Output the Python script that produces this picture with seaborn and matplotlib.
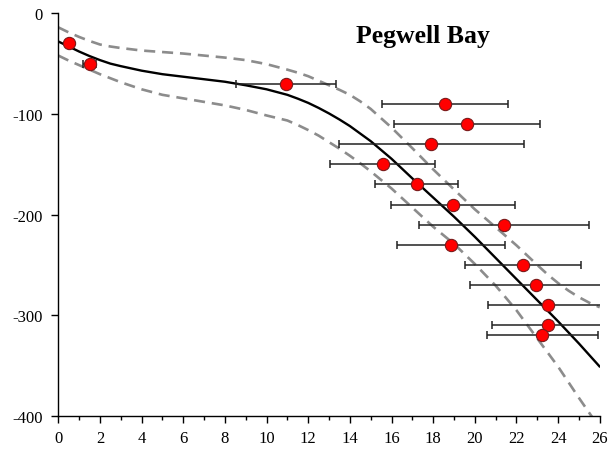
import matplotlib
matplotlib.use("Agg")
import matplotlib.pyplot as plt
from matplotlib.ticker import MultipleLocator
import seaborn as sns
import pandas as pd

# Observations: age (x), depth (y) and horizontal uncertainty
obs_x = [0.5, 1.5, 10.94, 18.56, 19.63, 17.92, 15.57, 17.2, 18.95, 21.4, 18.86,
         22.3, 22.95, 23.52, 23.52, 23.25]
obs_y = [-30, -50, -70, -90, -110, -130, -150, -170, -190, -210, -230,
         -250, -270, -290, -310, -320]
obs_xerr = [0.0, 0.3, 2.39, 3.01, 3.5, 4.44, 2.53, 2.0, 2.98, 4.08, 2.59,
            2.78, 3.2, 2.89, 2.69, 2.68]

# Fitted depth model and its confidence envelope
fit_x = [0, 0.5, 1, 1.5, 2, 2.5, 3, 4, 5, 6, 7, 8, 9, 10, 11, 11.5, 12, 12.5, 13,
         13.5, 14, 14.5, 15, 16, 17, 18, 19, 20, 21, 22, 23, 23.5, 24, 24.5, 25,
         25.5, 26]
fit_y = [-28, -33, -38, -42.5, -46.5, -50, -52.5, -57, -60.5, -63, -65.5, -68,
         -71.5, -75.5, -81, -84.8, -89, -94, -99.5, -105.5, -112, -119.5, -127,
         -144.5, -164, -183, -202, -222, -243, -264, -285, -295.5, -306, -317,
         -328, -339.5, -351]
upper_y = [-14, -19, -23.5, -27.5, -31, -33, -34.5, -37, -38.5, -40, -42, -44,
           -46.5, -50.5, -56, -59, -62.5, -67, -71.5, -76, -81, -87.5, -95,
           -113.5, -134, -155, -175, -194.7, -212.5, -230.5, -250, -259.5, -268,
           -275.5, -282, -287.5, -292]
lower_y = [-42, -47, -51.5, -56, -60.5, -64.5, -68.5, -75.5, -81, -84.5, -88,
           -91.5, -96, -101.5, -106.5, -111, -116, -121.5, -128, -134.5, -141.5,
           -149, -157, -174, -193, -212, -229, -249, -270.5, -295, -323, -337,
           -351, -366.5, -382, -397, -412]

x_ticks = list(range(0, 27, 2))
y_ticks = [0, -100, -200, -300, -400]
title = "Pegwell Bay"

sns.set_theme(style="ticks")
plt.rcParams["font.family"] = ["Liberation Serif", "DejaVu Serif"]
plt.rcParams["axes.unicode_minus"] = False

fig = plt.figure(figsize=(6.12, 4.52), dpi=100)
ax = fig.add_axes([0.0953, 0.0774, 0.8847, 0.891])

curves = pd.DataFrame({"x": fit_x, "fit": fit_y, "upper": upper_y, "lower": lower_y})

for col in ["upper", "lower"]:
    sns.lineplot(data=curves, x="x", y=col, ax=ax, color="#8c8c8c", lw=1.9,
                 dashes=False, linestyle=(0, (4.2, 2.6)), zorder=2)
sns.lineplot(data=curves, x="x", y="fit", ax=ax, color="black", lw=1.7, zorder=3)

ax.errorbar(obs_x, obs_y, xerr=obs_xerr, fmt="none", ecolor="#222222",
            elinewidth=1.1, capsize=3.2, capthick=1.1, zorder=4)

pts = pd.DataFrame({"x": obs_x, "y": obs_y})
sns.scatterplot(data=pts, x="x", y="y", ax=ax, color="#ff0000", s=78,
                edgecolor="#7a1a1a", linewidth=0.8, zorder=5)

ax.set_xlim(0, 26)
ax.set_ylim(-400, 0)
ax.set_xticks(x_ticks)
ax.set_yticks(y_ticks)
ax.xaxis.set_minor_locator(MultipleLocator(1))
ax.tick_params(axis="both", which="major", direction="out", length=5, width=1,
               color="black", labelsize=12, labelcolor="black")
ax.tick_params(axis="x", which="major", pad=5)
ax.tick_params(axis="y", which="major", pad=6)
ax.tick_params(axis="x", which="minor", direction="out", length=3, width=1,
               color="black")
ax.set_xlabel("")
ax.set_ylabel("")
for side in ["top", "right"]:
    ax.spines[side].set_visible(False)
for side in ["left", "bottom"]:
    ax.spines[side].set_color("black")
    ax.spines[side].set_linewidth(1.0)

ax.text(0.673, 0.946, title, transform=ax.transAxes, ha="center", va="center",
        fontsize=18.5, fontweight="bold", color="black")

fig.savefig("out.png", dpi=100)
